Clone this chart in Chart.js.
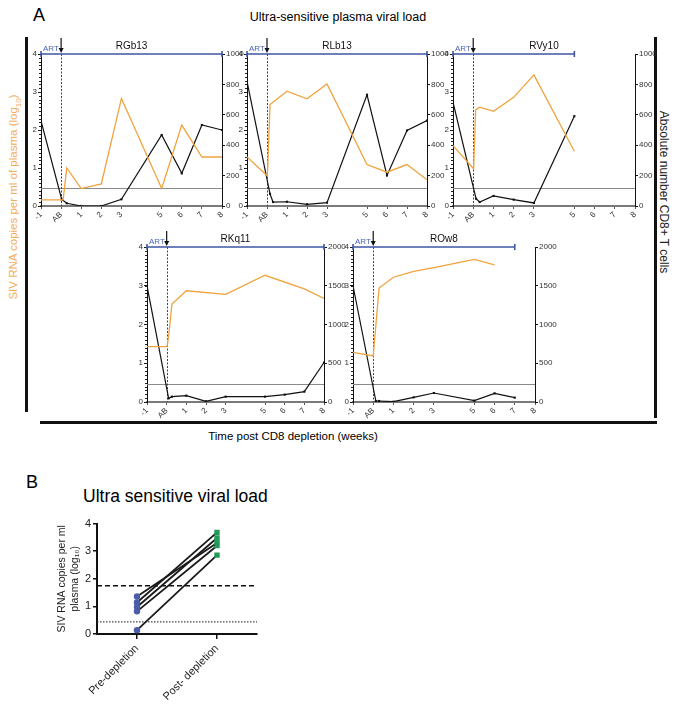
<!DOCTYPE html>
<html>
<head>
<title>Ultra-sensitive plasma viral load</title>
<style>
    body { margin: 0; background: #fff; font-family: 'Liberation Sans', Arial, sans-serif; }
    #page { position: relative; width: 676px; height: 706px; overflow: hidden; }
    .abs { position: absolute; }
    .bar { position: absolute; background: #111; }
    .rot { position: absolute; white-space: nowrap; transform: translate(-50%, -50%) rotate(-90deg); }
    .rotR { position: absolute; white-space: nowrap; transform: translate(-50%, -50%) rotate(90deg); }
    canvas { position: absolute; }
</style>
<script src="https://cdn.jsdelivr.net/npm/chart.js"></script>
</head>
<body>
<div id="page">
    <div class="abs" style="left:33px;top:5px;font-size:18px;">A</div>
    <div class="abs" style="left:338px;top:10px;font-size:12.5px;transform:translateX(-50%);white-space:nowrap;">Ultra-sensitive plasma viral load</div>
    <div class="bar" style="left:25px;top:37px;width:3px;height:375px;"></div>
    <div class="bar" style="left:654px;top:37px;width:3px;height:381px;"></div>
    <div class="bar" style="left:40px;top:421px;width:617px;height:3px;"></div>
    <div class="rot" style="left:15px;top:197px;font-size:11.5px;color:#F2AE5E;">SIV RNA copies per ml of plasma (log<sub style="font-size:8px;">10</sub>)</div>
    <div class="rotR" style="left:664px;top:192px;font-size:12px;color:#222;">Absolute number CD8+ T cells</div>
    <div class="abs" style="left:293px;top:430px;font-size:11.5px;transform:translateX(-50%);white-space:nowrap;">Time post CD8 depletion (weeks)</div>
    <div class="abs" style="left:26px;top:472px;font-size:18px;">B</div>
    <div class="abs" style="left:83px;top:486px;font-size:17.5px;white-space:nowrap;">Ultra sensitive viral load</div>

    <canvas id="pRGb13"></canvas>
    <canvas id="pRLb13"></canvas>
    <canvas id="pRVy10"></canvas>
    <canvas id="pRKq11"></canvas>
    <canvas id="pROw8"></canvas>
    <canvas id="chartB"></canvas>
</div>
<script>
// ---- data, panel A (weeks post CD8 depletion; AB = week 0) ----
const weekTicks = [-1, 0, 1, 2, 3, 5, 6, 7, 8];
const detectionLimit = 0.47;

const rgb13VlWeeks = [-1, 0.1, 0.28, 1, 2, 3, 5, 6, 7, 8];
const rgb13Vl = [0.16, 0.16, 1.0, 0.46, 0.58, 2.83, 0.46, 2.13, 1.29, 1.29];
const rgb13CdWeeks = [-1, 0.03, 0.28, 1, 2, 3, 5, 6, 7, 8];
const rgb13Cd = [560, 44, 18, 0, 0, 44, 467, 215, 533, 500];

const rlb13VlWeeks = [-1, 0.02, 0.15, 1, 2, 3, 5, 6, 7, 8];
const rlb13Vl = [1.29, 0.79, 2.67, 3.02, 2.82, 3.21, 1.09, 0.89, 1.09, 0.69];
const rlb13CdWeeks = [-1, 0.15, 0.3, 1, 2, 3, 5, 6, 7, 8];
const rlb13Cd = [820, 80, 26, 28, 11, 22, 731, 201, 497, 562];

const rvy10VlWeeks = [-1, 0.02, 0.12, 0.32, 1, 2, 3, 5];
const rvy10Vl = [1.59, 0.98, 2.53, 2.6, 2.49, 2.86, 3.45, 1.44];
const rvy10CdWeeks = [-1, 0.14, 0.32, 1, 2, 3, 5];
const rvy10Cd = [683, 48, 26, 66, 42, 20, 591];

const rkq11VlWeeks = [-1, 0.02, 0.1, 0.27, 1, 3, 5, 7, 8];
const rkq11Vl = [1.43, 1.43, 1.7, 2.53, 2.87, 2.78, 3.27, 2.92, 2.67];
const rkq11CdWeeks = [-1, 0.1, 0.27, 1, 2, 3, 5, 6, 7, 8];
const rkq11Cd = [1500, 47, 69, 82, 9, 69, 69, 95, 134, 509];

const row8VlWeeks = [-1, 0, 0.29, 1, 2, 3, 5, 6];
const row8Vl = [1.28, 1.19, 2.94, 3.22, 3.37, 3.47, 3.68, 3.54];
const row8CdWeeks = [-1, 0.13, 0.29, 1, 2, 3, 5, 6, 7];
const row8Cd = [1500, 13, 13, 4, 60, 116, 17, 112, 56];

// ---- data, panel B ----
const groups = ['Pre-depletion', 'Post- depletion'];
const preValues = [1.36, 1.14, 0.98, 0.82, 0.14];
const postValues = [3.3, 3.68, 3.48, 3.2, 2.86];
const dashedLevel = 1.75;
const dottedLevel = 0.44;

const FONT = "'Liberation Sans', Arial, sans-serif";
Chart.defaults.font.family = FONT;
Chart.defaults.color = '#333';

const ORANGE = '#F0A33C';
const BLUE = '#3F56A6';

// draws detection limit, AB line, ART bar, arrow and animal name
const panelDecor = {
    id: 'panelDecor',
    beforeDatasetsDraw(chart, args, opts) {
        const { ctx, chartArea: a, scales: { x, y } } = chart;
        ctx.save();
        // detection limit
        const ly = Math.round(y.getPixelForValue(detectionLimit)) + 0.5;
        ctx.strokeStyle = '#8a8a8a';
        ctx.lineWidth = 1;
        ctx.beginPath(); ctx.moveTo(a.left, ly); ctx.lineTo(a.right, ly); ctx.stroke();
        // AB dashed line
        const ax = Math.round(x.getPixelForValue(0)) + 0.5;
        ctx.strokeStyle = '#444';
        ctx.setLineDash([2, 1.5]);
        ctx.beginPath(); ctx.moveTo(ax, a.top); ctx.lineTo(ax, a.bottom); ctx.stroke();
        ctx.setLineDash([]);
        // minor ticks on the log axis
        ctx.strokeStyle = '#222';
        ctx.lineWidth = 1;
        ctx.beginPath();
        for (let v = 0; v <= 4.001; v += 0.1) {
            const py = Math.round(y.getPixelForValue(v)) + 0.5;
            ctx.moveTo(a.left - 2, py); ctx.lineTo(a.left, py);
        }
        ctx.stroke();
        ctx.restore();
    },
    afterDraw(chart, args, opts) {
        const { ctx, chartArea: a, scales: { x } } = chart;
        ctx.save();
        const x0 = x.getPixelForValue(-1), x1 = x.getPixelForValue(opts.artEnd);
        const ty = a.top;
        ctx.strokeStyle = BLUE;
        ctx.lineWidth = 1.6;
        ctx.beginPath();
        ctx.moveTo(x0, ty); ctx.lineTo(x1, ty);
        ctx.moveTo(x0, ty - 3); ctx.lineTo(x0, ty + 3);
        ctx.moveTo(x1, ty - 3); ctx.lineTo(x1, ty + 3);
        ctx.stroke();
        ctx.fillStyle = '#4A63B8';
        ctx.font = '8px ' + FONT;
        ctx.textAlign = 'left';
        ctx.fillText('ART', x0 + 2, ty - 3);
        // arrow at AB
        const ax = x.getPixelForValue(0);
        ctx.strokeStyle = '#111';
        ctx.fillStyle = '#111';
        ctx.lineWidth = 1.2;
        ctx.beginPath(); ctx.moveTo(ax, ty - 16); ctx.lineTo(ax, ty - 4); ctx.stroke();
        ctx.beginPath(); ctx.moveTo(ax - 2.5, ty - 6); ctx.lineTo(ax + 2.5, ty - 6); ctx.lineTo(ax, ty - 1); ctx.closePath(); ctx.fill();
        // name
        ctx.fillStyle = '#111';
        ctx.font = '10px ' + FONT;
        ctx.textAlign = 'center';
        ctx.fillText(opts.name, (a.left + a.right) / 2, ty - 5);
        ctx.restore();
    }
};

function toPoints(xs, ys) {
    return xs.map((w, i) => ({ x: w, y: ys[i] }));
}

function makePanel(id, box, vlWeeks, vl, cdWeeks, cd, cdMax, cdStep, artEnd, name) {
    const L = 18, R = 28, T = 24, B = 24;
    const cv = document.getElementById(id);
    cv.width = box[2] - box[0] + L + R;
    cv.height = box[3] - box[1] + T + B;
    cv.style.left = (box[0] - L) + 'px';
    cv.style.top = (box[1] - T) + 'px';
    new Chart(cv, {
        type: 'line',
        data: {
            datasets: [
                { data: toPoints(vlWeeks, vl), yAxisID: 'y', borderColor: ORANGE, borderWidth: 1.3, pointRadius: 0, tension: 0 },
                { data: toPoints(cdWeeks, cd), yAxisID: 'y2', borderColor: '#111', borderWidth: 1.2, pointRadius: 1.5,
                  pointStyle: 'rect', pointBackgroundColor: '#111', pointBorderWidth: 0, tension: 0 }
            ]
        },
        options: {
            responsive: false,
            animation: false,
            devicePixelRatio: 1,
            layout: { padding: { top: T, left: 0, right: 0, bottom: 0 } },
            plugins: { legend: { display: false }, tooltip: { enabled: false }, panelDecor: { artEnd: artEnd, name: name } },
            scales: {
                x: {
                    type: 'linear', min: -1, max: 8,
                    afterBuildTicks: s => { s.ticks = weekTicks.map(v => ({ value: v })); },
                    afterFit: s => { s.height = B; },
                    grid: { drawOnChartArea: false, tickLength: 3, color: '#555' },
                    border: { color: '#7a7a7a', width: 2 },
                    ticks: { callback: v => v === 0 ? 'AB' : String(v), minRotation: 45, maxRotation: 45, autoSkip: false,
                             font: { size: 8 }, color: '#333', padding: 1 }
                },
                y: {
                    position: 'left', min: 0, max: 4,
                    afterFit: s => { s.width = L; },
                    grid: { drawOnChartArea: false, tickLength: 3, color: '#111' },
                    border: { color: '#111', width: 1 },
                    ticks: { stepSize: 1, font: { size: 8 }, color: '#333', padding: 1 }
                },
                y2: {
                    position: 'right', min: 0, max: cdMax,
                    afterFit: s => { s.width = R; },
                    grid: { drawOnChartArea: false, tickLength: 3, color: '#111' },
                    border: { color: '#111', width: 1 },
                    ticks: { stepSize: cdStep, callback: v => String(v), font: { size: 8 }, color: '#333', padding: 1 }
                }
            }
        },
        plugins: [panelDecor]
    });
}

makePanel('pRGb13', [41, 54, 222, 206], rgb13VlWeeks, rgb13Vl, rgb13CdWeeks, rgb13Cd, 1000, 200, 8, 'RGb13');
makePanel('pRLb13', [247, 54, 427, 206], rlb13VlWeeks, rlb13Vl, rlb13CdWeeks, rlb13Cd, 1000, 200, 8, 'RLb13');
makePanel('pRVy10', [453, 54, 635, 206], rvy10VlWeeks, rvy10Vl, rvy10CdWeeks, rvy10Cd, 1000, 200, 5, 'RVy10');
makePanel('pRKq11', [147, 247, 324, 402], rkq11VlWeeks, rkq11Vl, rkq11CdWeeks, rkq11Cd, 2000, 500, 8, 'RKq11');
makePanel('pROw8', [353, 247, 535, 402], row8VlWeeks, row8Vl, row8CdWeeks, row8Cd, 2000, 500, 7, 'ROw8');

// ---- panel B ----
const levelLines = {
    id: 'levelLines',
    beforeDatasetsDraw(chart) {
        const { ctx, chartArea: a, scales: { y } } = chart;
        ctx.save();
        ctx.strokeStyle = '#111';
        ctx.lineWidth = 1.6;
        ctx.setLineDash([5, 3]);
        let py = y.getPixelForValue(dashedLevel);
        ctx.beginPath(); ctx.moveTo(a.left, py); ctx.lineTo(a.right, py); ctx.stroke();
        ctx.lineWidth = 1.4;
        ctx.strokeStyle = '#444';
        ctx.setLineDash([1.5, 1.5]);
        py = y.getPixelForValue(dottedLevel);
        ctx.beginPath(); ctx.moveTo(a.left, py); ctx.lineTo(a.right, py); ctx.stroke();
        ctx.restore();
    }
};

(function () {
    const box = [97, 521, 257, 634];
    const L = 41, R = 20, T = 6, B = 72;
    const cv = document.getElementById('chartB');
    cv.width = box[2] - box[0] + L + R;
    cv.height = box[3] - box[1] + T + B;
    cv.style.left = (box[0] - L) + 'px';
    cv.style.top = (box[1] - T) + 'px';
    const pairs = preValues.map((p, i) => ({
        data: [p, postValues[i]],
        borderColor: '#1a1a1a', borderWidth: 1.8, tension: 0,
        pointStyle: ['circle', 'rect'],
        pointRadius: [3.2, 3.8],
        pointBackgroundColor: ['#4B5CA8', '#1F9A58'],
        pointBorderColor: ['#4B5CA8', '#1F9A58'],
        pointBorderWidth: 0
    }));
    new Chart(cv, {
        type: 'line',
        data: { labels: groups, datasets: pairs },
        options: {
            responsive: false,
            animation: false,
            devicePixelRatio: 1,
            layout: { padding: { top: T, right: R } },
            plugins: { legend: { display: false }, tooltip: { enabled: false } },
            scales: {
                x: {
                    offset: true,
                    afterFit: s => { s.height = B; },
                    grid: { drawOnChartArea: false, tickLength: 5, color: '#111', lineWidth: 1.5 },
                    border: { color: '#111', width: 2 },
                    ticks: { minRotation: 45, maxRotation: 45, font: { size: 11 }, color: '#222', padding: 3 }
                },
                y: {
                    min: 0, max: 4,
                    afterFit: s => { s.width = L; },
                    grid: { drawOnChartArea: false, tickLength: 4, color: '#111', lineWidth: 1.5 },
                    border: { color: '#111', width: 2 },
                    ticks: { stepSize: 1, font: { size: 11 }, color: '#222', padding: 2 },
                    title: { display: true, text: ['SIV RNA copies per ml', 'plasma (log\u2081\u2080)'], font: { size: 10.5 }, color: '#222', padding: 0 }
                }
            }
        },
        plugins: [levelLines]
    });
})();
</script>
</body>
</html>
